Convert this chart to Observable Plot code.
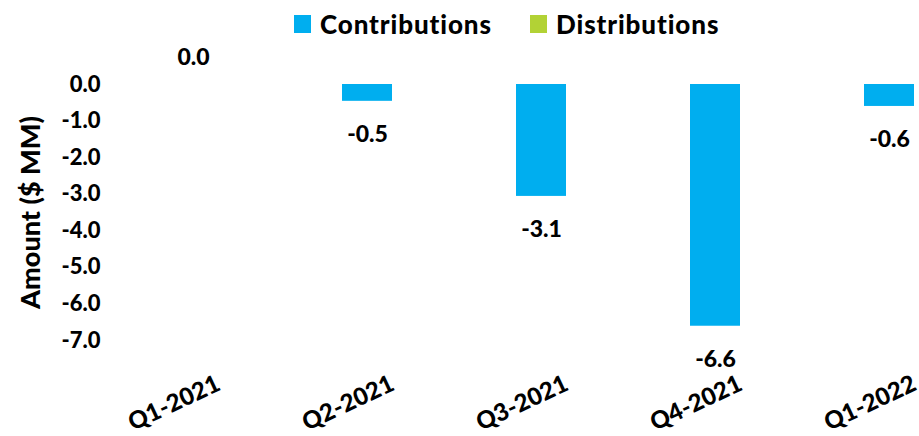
<!DOCTYPE html>
<html>
<head>
<meta charset="utf-8">
<script src="https://cdn.jsdelivr.net/npm/d3@7"></script>
<script src="https://cdn.jsdelivr.net/npm/@observablehq/plot@0.6"></script>
<style>
  html, body { margin: 0; padding: 0; background: #fff; }
  body { width: 919px; height: 436px; overflow: hidden; position: relative; font-family: Lato, "Open Sans", sans-serif; }
  #legend { position: absolute; left: 0; top: 0; width: 919px; height: 44px; z-index: 2; font-weight: 900; font-size: 26px; letter-spacing: 0.9px; color: #000; }
  .item { position: absolute; top: 0; height: 48px; display: flex; align-items: center; }
  .sw { width: 17px; height: 18px; margin-right: 9px; }
  svg { display: block; }
</style>
</head>
<body>
<div id="chart"></div>
<div id="legend"></div>
<script>
const quarters = ["Q1-2021", "Q2-2021", "Q3-2021", "Q4-2021", "Q1-2022"];
const contributions = [0.0, -0.46, -3.06, -6.61, -0.6];
const distributions = [0, 0, 0, 0, 0];
const seriesNames = ["Contributions", "Distributions"];
const seriesColors = ["#00AEEF", "#B2D235"];
const yTicks = [0, -1, -2, -3, -4, -5, -6, -7];
const yTitle = "Amount ($ MM)";

const data = quarters.flatMap((q, i) => [
  {quarter: q, series: seriesNames[0], value: contributions[i]},
  {quarter: q, series: seriesNames[1], value: distributions[i]}
]);
const labelled = data.filter(d => d.series === "Contributions");

// legend
const legend = document.getElementById("legend");
const legendLeft = [294, 530];
seriesNames.forEach((s, i) => {
  const it = document.createElement("div");
  it.className = "item";
  it.style.left = legendLeft[i] + "px";
  const sw = document.createElement("div");
  sw.className = "sw";
  sw.style.background = seriesColors[i];
  it.appendChild(sw);
  const t = document.createElement("span");
  t.textContent = s;
  it.appendChild(t);
  legend.appendChild(it);
});

const chart = Plot.plot({
  width: 919,
  height: 436,
  marginTop: 84,
  marginBottom: 96,
  marginLeft: 131,
  marginRight: 0,
  style: {fontFamily: "Lato, 'Open Sans', sans-serif", fontSize: "22px", fontWeight: "900", color: "#000", background: "#fff", overflow: "hidden"},
  fx: {domain: quarters, range: [131, 1001], padding: 0, label: null, axis: null},
  x: {domain: seriesNames, range: [168, 268], padding: 0, axis: null},
  y: {domain: [-7, 0], axis: null},
  color: {domain: seriesNames, range: seriesColors},
  marks: [
    Plot.axisY({anchor: "left", ticks: yTicks, tickFormat: d => d.toFixed(1), tickSize: 0, tickPadding: 31, fontSize: 22, label: null}),
    Plot.axisY({anchor: "left", ticks: [], label: yTitle, labelAnchor: "center", labelOffset: 111, labelArrow: "none", fontSize: 27, dy: -4}),
    Plot.axisFx({anchor: "bottom", label: null, tickRotate: -25, tickSize: 0, tickPadding: 42, fontSize: 24}),
    Plot.barY(data, {fx: "quarter", x: "series", y: "value", fill: "series"}),
    Plot.text(labelled.filter(d => d.value < 0), {fx: "quarter", x: "series", y: "value", text: d => d.value.toFixed(1), dy: 33, fill: "#000", fontSize: 23}),
    Plot.text(labelled.filter(d => d.value >= 0), {fx: "quarter", x: "series", y: "value", text: d => d.value.toFixed(1), dy: -27, fill: "#000", fontSize: 23})
  ]
});
document.getElementById("chart").appendChild(chart);
</script>
</body>
</html>
